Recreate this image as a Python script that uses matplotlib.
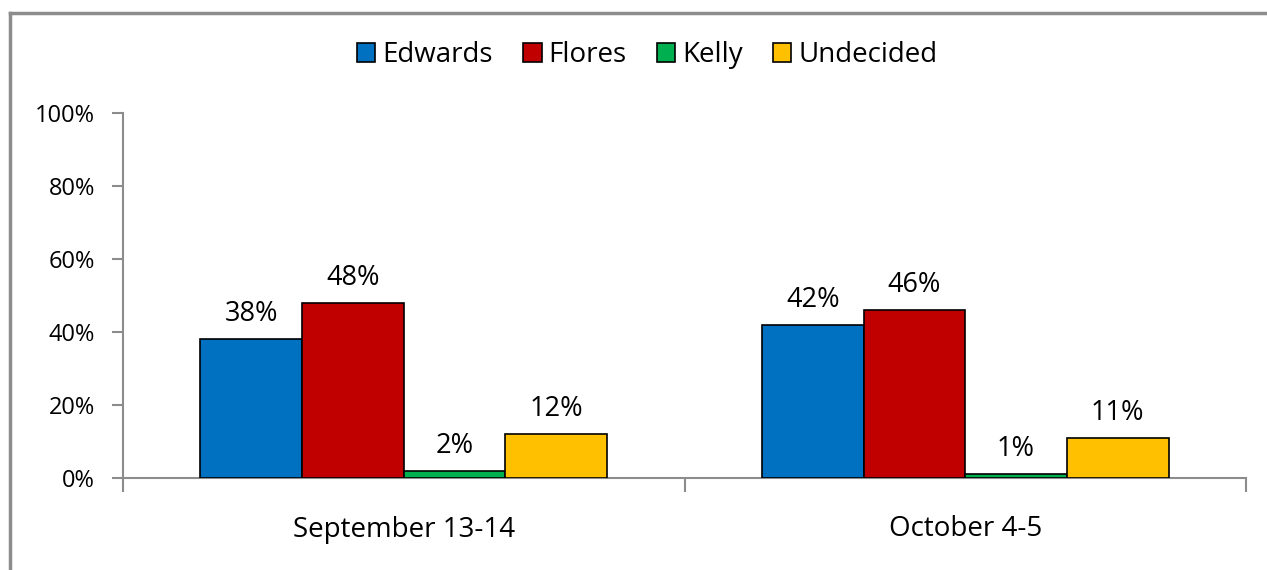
import matplotlib.pyplot as plt
import matplotlib.lines as mlines
import numpy as np

categories = ['September 13-14', 'October 4-5']
series = ['Edwards', 'Flores', 'Kelly', 'Undecided']
values = {
    'Edwards': [38, 42],
    'Flores': [48, 46],
    'Kelly': [2, 1],
    'Undecided': [12, 11],
}
colors = ['#0070C0', '#C00000', '#00B050', '#FFC000']
yticks = [0, 20, 40, 60, 80, 100]

plt.rcParams['font.family'] = ['Open Sans', 'DejaVu Sans']
grey = '#8c8c8c'

fig = plt.figure(figsize=(12.67, 5.7), dpi=100)
ax = fig.add_axes([123 / 1267, 1 - 478 / 570, (1246 - 123) / 1267, (478 - 113) / 570])

x = np.arange(len(categories))
w = 0.181
for i, (name, c) in enumerate(zip(series, colors)):
    pos = x + (i - 1.5) * w
    bars = ax.bar(pos, values[name], width=w, color=c, edgecolor='black', linewidth=1.2,
                  label=name, zorder=3)
    for b, v in zip(bars, values[name]):
        ax.text(b.get_x() + b.get_width() / 2, v + 3, f'{v}%', ha='center', va='bottom',
                fontsize=19.5)

ax.set_xlim(-0.5, len(categories) - 0.5)
ax.set_ylim(0, 100)
ax.set_yticks(yticks)
ax.set_yticklabels([f'{t}%' for t in yticks], fontsize=17)
ax.set_xticks(x)
ax.set_xticklabels(categories, fontsize=20)
ax.tick_params(axis='x', length=0, pad=27)
ax.set_xticks([-0.5, 0.5, 1.5], minor=True)
ax.tick_params(axis='x', which='minor', length=10, color=grey, width=1.5)
ax.tick_params(axis='y', length=8, color=grey, width=1.5, pad=12)
for s in ['top', 'right']:
    ax.spines[s].set_visible(False)
for s in ['left', 'bottom']:
    ax.spines[s].set_color(grey)
    ax.spines[s].set_linewidth(1.5)

leg = fig.legend(loc='center', bbox_to_anchor=(0.511, 1 - 55 / 570), ncol=4, frameon=False,
                 fontsize=20, handlelength=0.65, handleheight=0.65, handletextpad=0.25,
                 columnspacing=1.1)

# chart frame (left and top edges visible)
fig.add_artist(mlines.Line2D([9.5 / 1267, 9.5 / 1267], [0, 1 - 12.5 / 570], color=grey, lw=2.5))
fig.add_artist(mlines.Line2D([9.5 / 1267, 1], [1 - 12.5 / 570, 1 - 12.5 / 570], color=grey, lw=2.5))

fig.savefig('out.png', dpi=100)
